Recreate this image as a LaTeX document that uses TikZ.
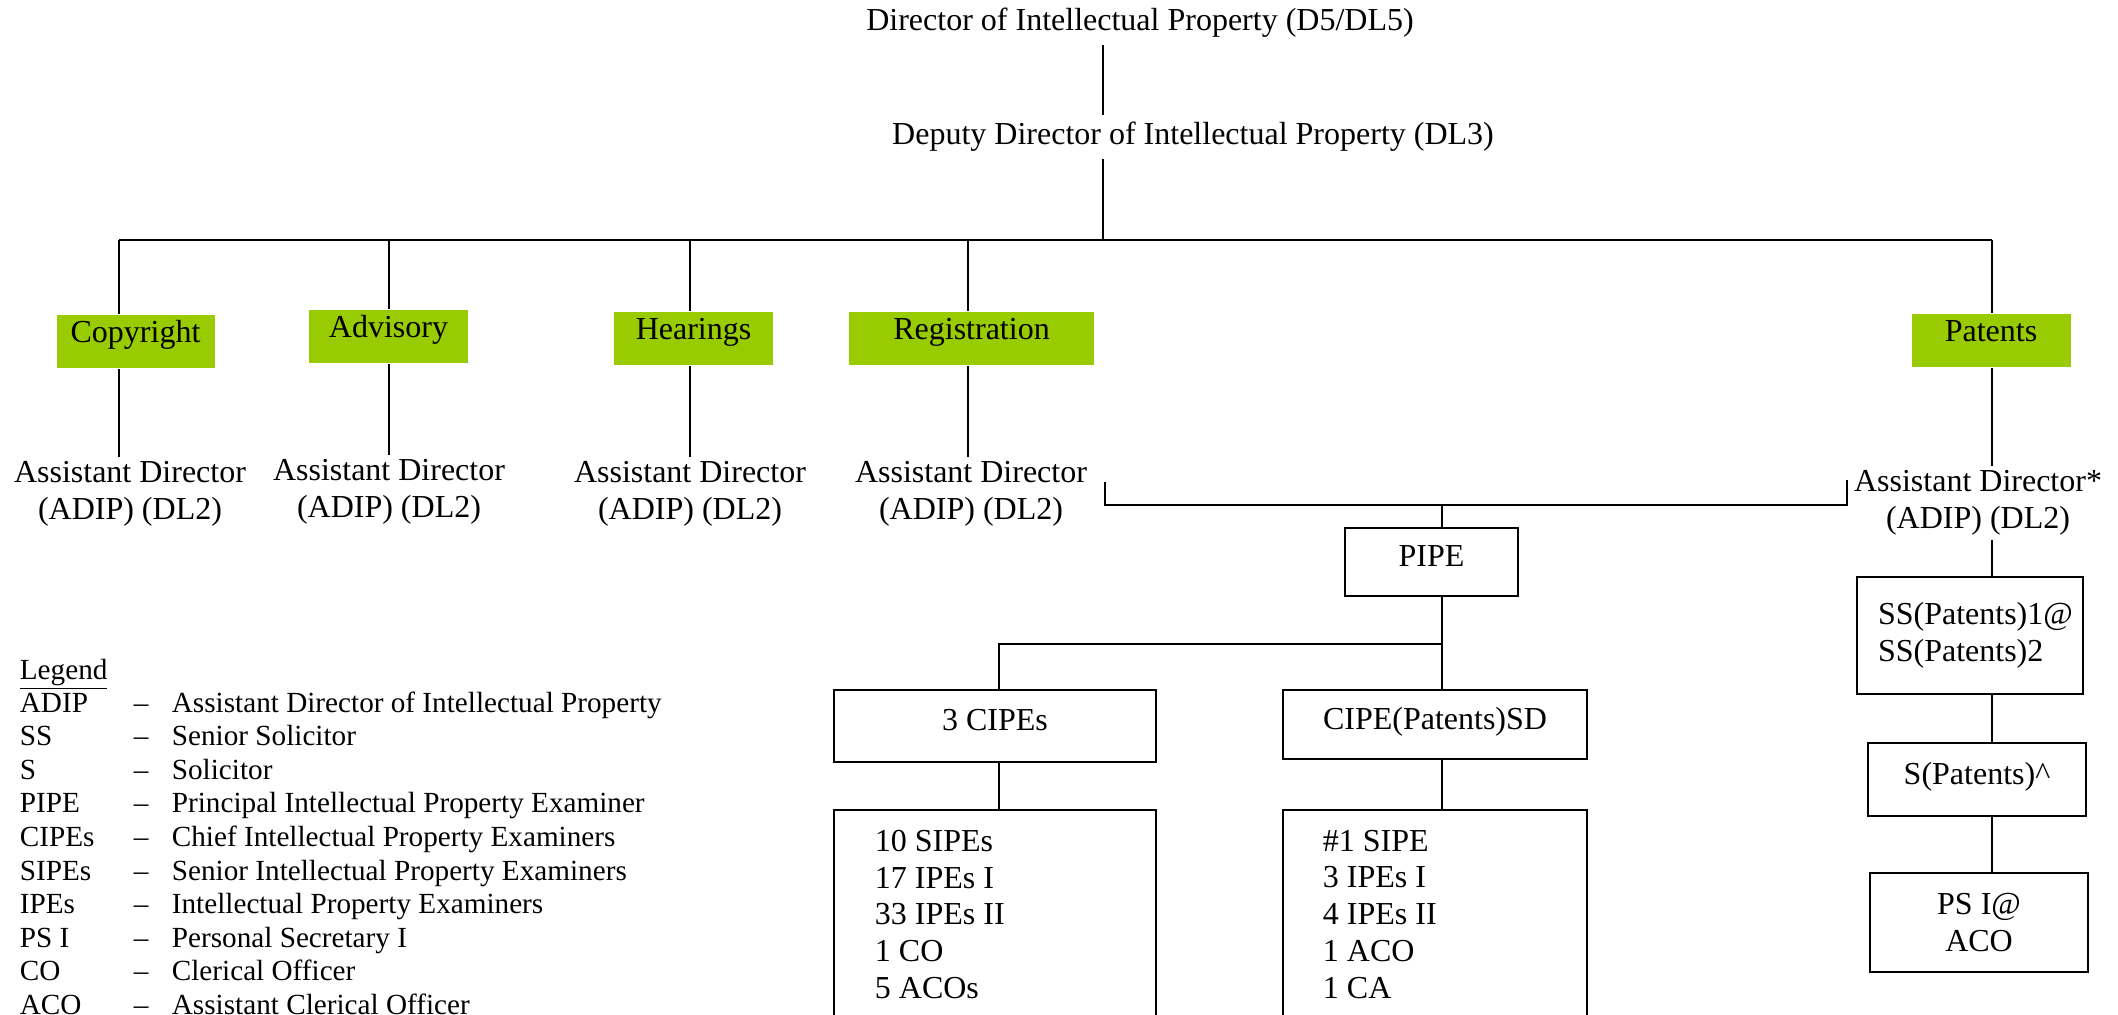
\documentclass[tikz,border=0pt]{standalone}
\usepackage{fontspec}
\setmainfont{Liberation Serif}
\usepackage{xcolor}
\definecolor{deptgreen}{HTML}{99CC00}

\tikzset{
  unit/.style={fill=deptgreen, minimum height=26.5pt, inner sep=0pt, text height=0.5em, text depth=0.4em},
  post/.style={align=center, inner sep=2pt},
  orgbox/.style={draw, inner sep=0pt},
  onebox/.style={text height=0.7em, text depth=0.25em},
  staff/.style={align=left, anchor=north west, inner sep=0pt},
  legendtext/.style={anchor=base west, inner sep=0pt, font=\fontsize{14.6}{16.8}\selectfont}
}

\begin{document}
\begin{tikzpicture}[x=0.5pt, y=-0.5pt, line width=0.9pt, font=\fontsize{16}{18.4}\selectfont]
   \useasboundingbox (0,0) rectangle (2118,1014);
   \clip (0,0) rectangle (2118,1014);

   % top of the chart
   \node (dir) at (1140,23) {Director of Intellectual Property (D5/DL5)};
   \node (dep) at (1193,137) {Deputy Director of Intellectual Property (DL3)};
   \coordinate (trunk) at (1103,240);
   \coordinate (b1) at (119,240);
   \coordinate (b2) at (389,240);
   \coordinate (b3) at (690,240);
   \coordinate (b4) at (968,240);
   \coordinate (b5) at (1992,240);

   % sections
   \node[unit, minimum width=79pt] (copy) at (135.5,341.5) {Copyright};
   \node[unit, minimum width=79.5pt] (advis) at (388.5,336.5) {Advisory};
   \node[unit, minimum width=79.5pt] (hear) at (693.5,338.5) {Hearings};
   \node[unit, minimum width=122.5pt] (regis) at (971.5,338.5) {Registration};
   \node[unit, minimum width=79.5pt] (pat) at (1991,340.5) {Patents};

   % assistant directors
   \node[post] (adcopy) at (130,494) {Assistant Director\\(ADIP) (DL2)};
   \node[post] (adadv) at (389,492) {Assistant Director\\(ADIP) (DL2)};
   \node[post] (adhear) at (690,494) {Assistant Director\\(ADIP) (DL2)};
   \node[post] (adreg) at (971,494) {Assistant Director\\(ADIP) (DL2)};
   \node[post] (adpat) at (1978,503) {Assistant Director*\\(ADIP) (DL2)};

   % examiners
   \coordinate (brl) at (1105,505);
   \coordinate (brr) at (1847,505);
   \coordinate (pj) at (1442,505);
   \coordinate (cj) at (1442,644);
   \coordinate (cl) at (999,644);
   \node[orgbox, onebox, minimum width=86.5pt, minimum height=34pt] (pipe) at (1431.5,562) {PIPE};
   \node[orgbox, onebox, minimum width=161pt, minimum height=36pt] (cipes) at (995,726) {3 CIPEs};
   \node[orgbox, onebox, minimum width=152pt, minimum height=34.5pt] (cipesd) at (1435,724.5) {CIPE(Patents)SD};
   \node[orgbox, anchor=north, minimum width=161pt, minimum height=120pt] (sipes) at (995,809) {};
   \node[orgbox, anchor=north, minimum width=152pt, minimum height=120pt] (sipesd) at (1435,809) {};
   \node[staff] (sipelist) at (874,829) {10 SIPEs\\17 IPEs I\\33 IPEs II\\1 CO\\5 ACOs};
   \node[staff] (sipedlist) at (1322,829) {\#1 SIPE\\3 IPEs I\\4 IPEs II\\1 ACO\\1 CA};

   % patents solicitors
   \node[orgbox, align=left, text width=92pt, inner xsep=10.5pt, minimum height=58.5pt] (ssp) at (1970,635.5) {SS(Patents)1@\\SS(Patents)2};
   \node[orgbox, onebox, minimum width=109pt, minimum height=36.5pt] (sp) at (1977,779.5) {S(Patents)\textasciicircum};
   \node[orgbox, align=center, minimum width=109pt, minimum height=49.5pt] (psi) at (1979,922.5) {PS I@\\ACO};

   % connectors
   \draw (dir.south -| trunk) -- (dep.north -| trunk);
   \draw (dep.south -| trunk) -- (trunk);
   \draw (b1) -- (b5);
   \foreach \b/\u/\p in {b1/copy/adcopy, b2/advis/adadv, b3/hear/adhear, b4/regis/adreg, b5/pat/adpat}
      \draw (\b) -- (\b |- \u.north) (\u.south -| \b) -- (\b |- \p.north);
   \draw (brl) ++(0,-23) -- (brl) -- (brr) -- ++(0,-25);
   \draw (pj) -- (pj |- pipe.north);
   \draw (pipe.south -| pj) -- (cj) -- (cl) -- (cl |- cipes.north);
   \draw (cj) -- (cj |- cipesd.north);
   \draw (cipes.south -| cl) -- (cl |- sipes.north);
   \draw (cipesd.south -| cj) -- (cj |- sipesd.north);
   \draw (adpat.south -| b5) -- (b5 |- ssp.north);
   \draw (ssp.south -| b5) -- (b5 |- sp.north);
   \draw (sp.south -| b5) -- (b5 |- psi.north);

   % legend
   \node[legendtext] (legend) at (19,679) {\underline{Legend}};
   \foreach \ab/\txt [count=\i] in {ADIP/Assistant Director of Intellectual Property,
      SS/Senior Solicitor, S/Solicitor, PIPE/Principal Intellectual Property Examiner,
      CIPEs/Chief Intellectual Property Examiners, SIPEs/Senior Intellectual Property Examiners,
      IPEs/Intellectual Property Examiners, PS I/Personal Secretary I,
      CO/Clerical Officer, ACO/Assistant Clerical Officer} {
      \node[legendtext] (ab\i) at (19,{712+33.6*(\i-1)}) {\ab};
      \node[legendtext] (da\i) at (133,{712+33.6*(\i-1)}) {--};
      \node[legendtext] (tx\i) at (171,{712+33.6*(\i-1)}) {\txt};
   }
\end{tikzpicture}
\end{document}
